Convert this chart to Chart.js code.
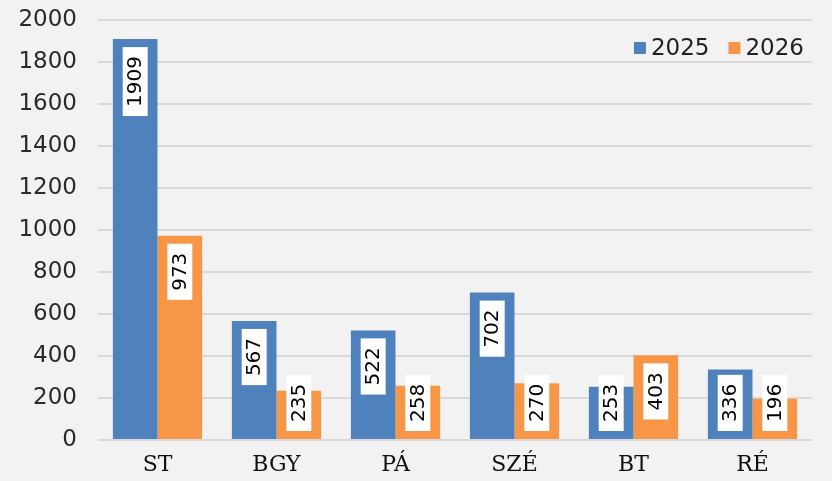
<!DOCTYPE html>
<html>
<head>
<meta charset="utf-8">
<script src="https://cdn.jsdelivr.net/npm/chart.js@4"></script>
<style>
  html, body { margin: 0; padding: 0; background: #f2f2f2; }
  #wrap { width: 832px; height: 481px; }
</style>
</head>
<body>
<div id="wrap"><canvas id="myChart" width="832" height="481"></canvas></div>
<script>
const categories = ['ST', 'BGY', 'PÁ', 'SZÉ', 'BT', 'RÉ'];
const values2025 = [1909, 567, 522, 702, 253, 336];
const values2026 = [973, 235, 258, 270, 403, 196];
const seriesNames = ['2025', '2026'];

// white rotated value boxes near the top of each bar
const valueBoxes = {
    id: 'valueBoxes',
    afterDatasetsDraw(chart) {
        const ctx = chart.ctx;
        ctx.save();
        ctx.font = '20px "DejaVu Sans"';
        chart.data.datasets.forEach(function (ds, di) {
            const meta = chart.getDatasetMeta(di);
            meta.data.forEach(function (bar, i) {
                const txt = String(ds.data[i]);
                const tw = ctx.measureText(txt).width;
                const len = tw + 18;
                const thick = 25;
                const top = Math.min(bar.y + 8, bar.base - 8 - len);
                ctx.fillStyle = '#ffffff';
                ctx.fillRect(bar.x - thick / 2, top, thick, len);
                ctx.save();
                ctx.translate(bar.x, top + len / 2);
                ctx.rotate(-Math.PI / 2);
                ctx.fillStyle = '#000000';
                ctx.textAlign = 'center';
                ctx.textBaseline = 'middle';
                ctx.fillText(txt, 0, 1);
                ctx.restore();
            });
        });
        ctx.restore();
    }
};

// legend inside the plot, top right
const innerLegend = {
    id: 'innerLegend',
    afterDraw(chart) {
        const ctx = chart.ctx;
        const area = chart.chartArea;
        ctx.save();
        ctx.font = '23px "DejaVu Sans"';
        ctx.textBaseline = 'middle';
        let x = area.right - 8;
        const y = 48;
        for (let di = chart.data.datasets.length - 1; di >= 0; di--) {
            const ds = chart.data.datasets[di];
            const tw = ctx.measureText(ds.label).width;
            x -= tw;
            ctx.fillStyle = '#222';
            ctx.fillText(ds.label, x, y + 1);
            x -= 5 + 12;
            ctx.fillStyle = ds.backgroundColor;
            ctx.fillRect(x, y - 6, 12, 12);
            x -= 19;
        }
        ctx.restore();
    }
};

new Chart(document.getElementById('myChart').getContext('2d'), {
    type: 'bar',
    data: {
        labels: categories,
        datasets: [{
            label: seriesNames[0],
            data: values2025,
            backgroundColor: '#4f81bd',
            categoryPercentage: 0.75,
            barPercentage: 1
        }, {
            label: seriesNames[1],
            data: values2026,
            backgroundColor: '#f79646',
            categoryPercentage: 0.75,
            barPercentage: 1
        }]
    },
    options: {
        responsive: false,
        animation: false,
        layout: {
            padding: { top: 20, right: 20, bottom: 0, left: 0 }
        },
        plugins: {
            legend: { display: false },
            tooltip: { enabled: false }
        },
        scales: {
            x: {
                grid: { display: false, drawTicks: false },
                border: { display: false },
                ticks: {
                    color: '#111',
                    padding: 12,
                    font: { family: 'DejaVu Serif', size: 22 }
                },
                afterFit: function (scale) {
                    scale.height = 41;
                    scale.paddingLeft = 0;
                    scale.paddingRight = 0;
                }
            },
            y: {
                min: 0,
                max: 2000,
                ticks: {
                    stepSize: 200,
                    color: '#2a2a2a',
                    padding: 21,
                    font: { family: 'DejaVu Sans', size: 23 },
                    callback: function (value) { return String(value); }
                },
                grid: { color: '#d9d9d9', lineWidth: 2, drawTicks: false },
                border: { display: false },
                afterFit: function (scale) {
                    scale.width = 98;
                    scale.paddingTop = 0;
                    scale.paddingBottom = 0;
                }
            }
        }
    },
    plugins: [valueBoxes, innerLegend]
});
</script>
</body>
</html>
